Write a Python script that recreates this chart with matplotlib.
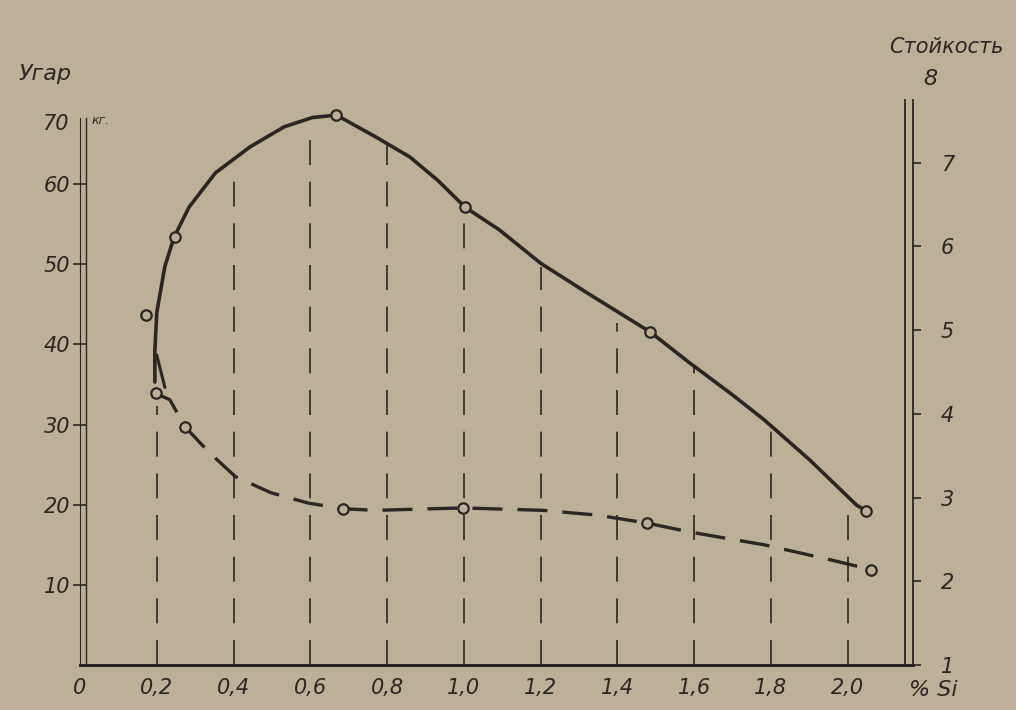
import matplotlib.pyplot as plt
import numpy as np

# % Si ticks and labels
si_ticks = [0, 0.2, 0.4, 0.6, 0.8, 1.0, 1.2, 1.4, 1.6, 1.8, 2.0]
si_labels = ['0', '0,2', '0,4', '0,6', '0,8', '1,0', '1,2', '1,4', '1,6', '1,8', '2,0']

# Угар, кг (left axis) - dashed curve
ugar_pts_x = [0.197, 0.274, 0.685, 0.997, 1.478, 2.061]
ugar_pts_y = [33.9, 29.7, 19.5, 19.6, 17.7, 11.9]
ugar_line_x = [0.197, 0.234, 0.274, 0.337, 0.405, 0.497, 0.595, 0.685, 0.770,
               0.997, 1.205, 1.348, 1.478, 1.588, 1.782, 1.957, 2.061]
ugar_line_y = [33.9, 33.1, 29.7, 26.5, 23.5, 21.5, 20.2, 19.5, 19.3,
               19.6, 19.3, 18.7, 17.7, 16.6, 15.0, 13.1, 11.9]

# Стойкость (right axis) - solid curve
stoik_pts_x = [0.173, 0.247, 0.668, 1.003, 1.485, 2.048]
stoik_pts_y = [5.18, 6.11, 7.57, 6.47, 4.98, 2.84]
stoik_line_x = [0.195, 0.195, 0.200, 0.221, 0.245, 0.284, 0.353, 0.443, 0.532, 0.605,
                0.668, 0.770, 0.859, 0.932, 1.003, 1.092, 1.200, 1.323, 1.485,
                1.588, 1.699, 1.782, 1.901, 2.023, 2.048]
stoik_line_y = [4.38, 4.76, 5.21, 5.76, 6.11, 6.47, 6.88, 7.19, 7.43, 7.54,
                7.57, 7.31, 7.07, 6.79, 6.47, 6.20, 5.80, 5.44, 4.98,
                4.61, 4.23, 3.93, 3.45, 2.91, 2.84]
hook_x = [0.200, 0.221]
hook_y = [4.70, 4.32]

# tops of the vertical dashed guide lines (right-axis units)
guide_x = [0.2, 0.4, 0.6, 0.8, 1.0, 1.2, 1.4, 1.6, 1.8, 2.0]
guide_top = [4.1, 6.83, 7.45, 7.24, 6.40, 5.75, 5.09, 4.56, 3.87, 3.01]

paper = '#bcb198'
ink = '#2a2621'
font = dict(family='DejaVu Sans', style='italic', color=ink)

fig = plt.figure(figsize=(10.16, 7.10), dpi=100)
fig.patch.set_facecolor(paper)
ax = fig.add_axes([80/1016, 1 - 665/710, 833/1016, 565/710])
ax.set_facecolor(paper)
ax.set_xlim(0, 2.17)
ax.set_ylim(0, 70.5)
ax2 = ax.twinx()
ax2.set_ylim(1, 7.75)

for s in ['top', 'right']:
    ax.spines[s].set_visible(False)
for s in ['top', 'left', 'bottom']:
    ax2.spines[s].set_visible(False)
ax.spines['left'].set_bounds(0, 68.3)
ax.spines['left'].set_color(ink)
ax.spines['bottom'].set_color(ink)
ax.spines['bottom'].set_linewidth(2.2)
ax2.spines['right'].set_color(ink)
ax2.spines['right'].set_linewidth(1.3)

# double axis lines
ax.plot([0.016, 0.016], [0, 68.3], color=ink, lw=1.0, clip_on=False)
ax2.plot([2.15, 2.15], [1, 7.75], color=ink, lw=1.3, clip_on=False)

# left ticks
ax.set_yticks([10, 20, 30, 40, 50, 60])
ax.tick_params(axis='y', direction='inout', length=10, width=1.2, color=ink,
               labelsize=15, labelcolor=ink, pad=2)
for t in ax.get_yticklabels():
    t.set_fontstyle('italic')
ax.text(-0.03, 67.5, '70', ha='right', va='center', fontsize=15, **font)
ax.text(0.03, 68.0, 'кг.', ha='left', va='center', fontsize=9, **font)
ax.text(-0.16, 72.5, 'Угар', ha='left', va='bottom', fontsize=16, clip_on=False, **font)

# right ticks
ax2.set_yticks([1, 2, 3, 4, 5, 6, 7])
ax2.tick_params(axis='y', direction='out', length=6, width=1.2, color=ink,
                labelsize=15, labelcolor=ink, pad=14)
for t in ax2.get_yticklabels():
    t.set_fontstyle('italic')
ax2.text(2.214, 8.0, '8', ha='center', va='center', fontsize=16, clip_on=False, **font)
ax2.text(2.405, 8.38, 'Стойкость', ha='right', va='center', fontsize=15,
         clip_on=False, **font)

# x ticks
ax.set_xticks(si_ticks)
ax.set_xticklabels(si_labels)
ax.tick_params(axis='x', length=0, labelsize=15, labelcolor=ink, pad=9)
for t in ax.get_xticklabels():
    t.set_fontstyle('italic')
ax.text(2.222, -0.045, '% Si', transform=ax.get_xaxis_transform(), ha='center',
        va='center', fontsize=16, clip_on=False, **font)

# vertical dashed guides
ax2.vlines(guide_x, 1, guide_top, colors=ink, linewidth=1.2,
           linestyles=(0, (15, 10)), zorder=1)

# curves
ax2.plot(stoik_line_x, stoik_line_y, color=ink, lw=2.6, solid_capstyle='round', zorder=3)
ax2.plot(hook_x, hook_y, color=ink, lw=2.2, zorder=3)
ax2.plot(stoik_pts_x, stoik_pts_y, 'o', ms=7.5, mfc=paper, mec=ink, mew=1.6,
         zorder=5, clip_on=False)
ax.plot(ugar_line_x, ugar_line_y, color=ink, lw=2.4, dashes=(9, 4.5), zorder=3)
ax.plot(ugar_pts_x, ugar_pts_y, 'o', ms=7.5, mfc=paper, mec=ink, mew=1.6,
        zorder=5, clip_on=False)
ax2.set_zorder(ax.get_zorder() + 1)

plt.savefig('out.png', dpi=100, facecolor=paper)
